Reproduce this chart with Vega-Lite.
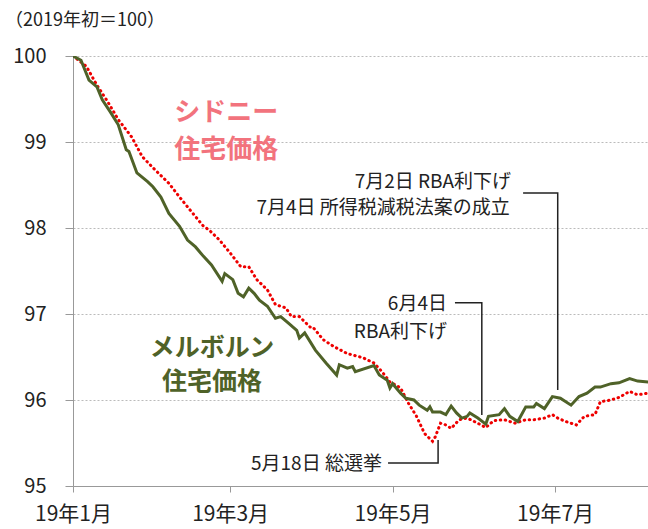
{
  "$schema": "https://vega.github.io/schema/vega-lite/v6.json",
  "width": 575,
  "height": 430,
  "autosize": "none",
  "padding": {"left": 73, "top": 56, "right": 0, "bottom": 43},
  "background": "white",
  "config": {"view": {"stroke": null}, "font": "Noto Sans CJK JP"},
  "title": {"text": "（2019年初＝100）", "anchor": "start", "frame": "group", "fontSize": 18, "fontWeight": "normal", "color": "#222", "font": "Noto Sans CJK JP", "offset": 16, "dx": -68},
  "datasets": {
    "melb": [
      {"date": "2019-01-01", "value": 100},
      {"date": "2019-01-04", "value": 99.95},
      {"date": "2019-01-07", "value": 99.72},
      {"date": "2019-01-10", "value": 99.64},
      {"date": "2019-01-12", "value": 99.49},
      {"date": "2019-01-15", "value": 99.35},
      {"date": "2019-01-18", "value": 99.2},
      {"date": "2019-01-21", "value": 98.91},
      {"date": "2019-01-22", "value": 98.89},
      {"date": "2019-01-25", "value": 98.64},
      {"date": "2019-01-29", "value": 98.54},
      {"date": "2019-01-31", "value": 98.48},
      {"date": "2019-02-03", "value": 98.36},
      {"date": "2019-02-06", "value": 98.17},
      {"date": "2019-02-10", "value": 98.02},
      {"date": "2019-02-13", "value": 97.86},
      {"date": "2019-02-16", "value": 97.78},
      {"date": "2019-02-19", "value": 97.67},
      {"date": "2019-02-22", "value": 97.57},
      {"date": "2019-02-26", "value": 97.38},
      {"date": "2019-02-27", "value": 97.47},
      {"date": "2019-03-02", "value": 97.4},
      {"date": "2019-03-04", "value": 97.24},
      {"date": "2019-03-06", "value": 97.2},
      {"date": "2019-03-08", "value": 97.3},
      {"date": "2019-03-10", "value": 97.24},
      {"date": "2019-03-12", "value": 97.16},
      {"date": "2019-03-15", "value": 97.09},
      {"date": "2019-03-18", "value": 96.95},
      {"date": "2019-03-20", "value": 96.97},
      {"date": "2019-03-23", "value": 96.89},
      {"date": "2019-03-26", "value": 96.81},
      {"date": "2019-03-27", "value": 96.72},
      {"date": "2019-03-29", "value": 96.78},
      {"date": "2019-04-02", "value": 96.58},
      {"date": "2019-04-06", "value": 96.43},
      {"date": "2019-04-10", "value": 96.29},
      {"date": "2019-04-11", "value": 96.41},
      {"date": "2019-04-14", "value": 96.37},
      {"date": "2019-04-16", "value": 96.39},
      {"date": "2019-04-17", "value": 96.33},
      {"date": "2019-04-24", "value": 96.4},
      {"date": "2019-04-26", "value": 96.29},
      {"date": "2019-04-29", "value": 96.23},
      {"date": "2019-04-30", "value": 96.14},
      {"date": "2019-05-01", "value": 96.19},
      {"date": "2019-05-04", "value": 96.08},
      {"date": "2019-05-06", "value": 96.02},
      {"date": "2019-05-09", "value": 96.0},
      {"date": "2019-05-11", "value": 95.94},
      {"date": "2019-05-14", "value": 95.88},
      {"date": "2019-05-15", "value": 95.92},
      {"date": "2019-05-16", "value": 95.86},
      {"date": "2019-05-19", "value": 95.86},
      {"date": "2019-05-21", "value": 95.83},
      {"date": "2019-05-23", "value": 95.93},
      {"date": "2019-05-25", "value": 95.85},
      {"date": "2019-05-27", "value": 95.79},
      {"date": "2019-05-29", "value": 95.81},
      {"date": "2019-05-30", "value": 95.85},
      {"date": "2019-06-02", "value": 95.79},
      {"date": "2019-06-05", "value": 95.72},
      {"date": "2019-06-06", "value": 95.81},
      {"date": "2019-06-10", "value": 95.83},
      {"date": "2019-06-12", "value": 95.9},
      {"date": "2019-06-14", "value": 95.81},
      {"date": "2019-06-17", "value": 95.75},
      {"date": "2019-06-20", "value": 95.92},
      {"date": "2019-06-23", "value": 95.92},
      {"date": "2019-06-24", "value": 95.96},
      {"date": "2019-06-27", "value": 95.9},
      {"date": "2019-06-30", "value": 96.04},
      {"date": "2019-07-03", "value": 96.02},
      {"date": "2019-07-07", "value": 95.94},
      {"date": "2019-07-10", "value": 96.04},
      {"date": "2019-07-13", "value": 96.08},
      {"date": "2019-07-16", "value": 96.15},
      {"date": "2019-07-18", "value": 96.15},
      {"date": "2019-07-22", "value": 96.19},
      {"date": "2019-07-25", "value": 96.2},
      {"date": "2019-07-29", "value": 96.25},
      {"date": "2019-08-01", "value": 96.22},
      {"date": "2019-08-05", "value": 96.21}
    ],
    "syd": [
      {"date": "2019-01-01", "value": 100},
      {"date": "2019-01-06", "value": 99.88},
      {"date": "2019-01-10", "value": 99.66},
      {"date": "2019-01-14", "value": 99.47},
      {"date": "2019-01-18", "value": 99.26},
      {"date": "2019-01-23", "value": 99.06},
      {"date": "2019-01-27", "value": 98.83},
      {"date": "2019-02-01", "value": 98.67},
      {"date": "2019-02-06", "value": 98.52},
      {"date": "2019-02-10", "value": 98.36},
      {"date": "2019-02-15", "value": 98.17},
      {"date": "2019-02-19", "value": 98.02},
      {"date": "2019-02-21", "value": 97.98},
      {"date": "2019-02-25", "value": 97.86},
      {"date": "2019-03-01", "value": 97.71},
      {"date": "2019-03-05", "value": 97.55},
      {"date": "2019-03-08", "value": 97.55},
      {"date": "2019-03-11", "value": 97.4},
      {"date": "2019-03-15", "value": 97.28},
      {"date": "2019-03-18", "value": 97.11},
      {"date": "2019-03-20", "value": 97.09},
      {"date": "2019-03-22", "value": 97.07},
      {"date": "2019-03-24", "value": 96.97},
      {"date": "2019-03-27", "value": 96.97},
      {"date": "2019-03-31", "value": 96.85},
      {"date": "2019-04-01", "value": 96.85},
      {"date": "2019-04-05", "value": 96.7},
      {"date": "2019-04-09", "value": 96.62},
      {"date": "2019-04-14", "value": 96.54},
      {"date": "2019-04-20", "value": 96.49},
      {"date": "2019-04-24", "value": 96.43},
      {"date": "2019-04-27", "value": 96.33},
      {"date": "2019-04-30", "value": 96.21},
      {"date": "2019-05-04", "value": 96.14},
      {"date": "2019-05-07", "value": 95.96},
      {"date": "2019-05-10", "value": 95.81},
      {"date": "2019-05-13", "value": 95.61},
      {"date": "2019-05-16", "value": 95.52},
      {"date": "2019-05-17", "value": 95.57},
      {"date": "2019-05-19", "value": 95.73},
      {"date": "2019-05-21", "value": 95.71},
      {"date": "2019-05-23", "value": 95.67},
      {"date": "2019-05-26", "value": 95.77},
      {"date": "2019-05-29", "value": 95.79},
      {"date": "2019-06-02", "value": 95.73},
      {"date": "2019-06-05", "value": 95.68},
      {"date": "2019-06-08", "value": 95.76},
      {"date": "2019-06-12", "value": 95.77},
      {"date": "2019-06-16", "value": 95.73},
      {"date": "2019-06-20", "value": 95.77},
      {"date": "2019-06-23", "value": 95.77},
      {"date": "2019-06-27", "value": 95.79},
      {"date": "2019-06-30", "value": 95.83},
      {"date": "2019-07-02", "value": 95.79},
      {"date": "2019-07-05", "value": 95.75},
      {"date": "2019-07-09", "value": 95.71},
      {"date": "2019-07-12", "value": 95.81},
      {"date": "2019-07-16", "value": 95.83},
      {"date": "2019-07-18", "value": 95.98},
      {"date": "2019-07-22", "value": 96.0},
      {"date": "2019-07-25", "value": 96.03},
      {"date": "2019-07-29", "value": 96.1},
      {"date": "2019-08-01", "value": 96.06},
      {"date": "2019-08-05", "value": 96.08}
    ],
    "notes": [
      {"date": "2019-06-14T12:00:00Z", "value": 98.535, "text": "7月2日 RBA利下げ"},
      {"date": "2019-06-14T00:00:00Z", "value": 98.233, "text": "7月4日 所得税減税法案の成立"},
      {"date": "2019-05-21T10:00:00Z", "value": 97.116, "text": "6月4日"},
      {"date": "2019-05-21T10:00:00Z", "value": 96.791, "text": "RBA利下げ"},
      {"date": "2019-04-27T00:00:00Z", "value": 95.256, "text": "5月18日 総選挙"}
    ],
    "sydlab": [
      {"date": "2019-02-27T12:00:00Z", "value": 99.337, "text": "シドニー"},
      {"date": "2019-02-27T12:00:00Z", "value": 98.907, "text": "住宅価格"}
    ],
    "melblab": [
      {"date": "2019-02-22T05:00:00Z", "value": 96.605, "text": "メルボルン"},
      {"date": "2019-02-22T05:00:00Z", "value": 96.209, "text": "住宅価格"}
    ],
    "conn": [
      {"g": "a", "ord": 1, "date": "2019-06-19T00:00:00Z", "value": 98.407},
      {"g": "a", "ord": 2, "date": "2019-07-02T00:00:00Z", "value": 98.407},
      {"g": "a", "ord": 3, "date": "2019-07-02T00:00:00Z", "value": 96.116},
      {"g": "b", "ord": 1, "date": "2019-05-24T10:00:00Z", "value": 97.131},
      {"g": "b", "ord": 2, "date": "2019-06-03T12:00:00Z", "value": 97.131},
      {"g": "b", "ord": 3, "date": "2019-06-03T12:00:00Z", "value": 95.826},
      {"g": "c", "ord": 1, "date": "2019-04-29T07:00:00Z", "value": 95.267},
      {"g": "c", "ord": 2, "date": "2019-05-18T02:00:00Z", "value": 95.267},
      {"g": "c", "ord": 3, "date": "2019-05-18T02:00:00Z", "value": 95.535}
    ]
  },
  "encoding": {
    "x": {
      "field": "date", "type": "temporal",
      "scale": {"type": "utc", "domain": [1546300800000, 1564954560000]},
      "axis": {
        "values": [1546300800000, 1551398400000, 1556668800000, 1561939200000],
        "labelExpr": "'19年' + (utcmonth(datum.value) + 1) + '月'",
        "title": null, "grid": false, "domainColor": "#999", "tickColor": "#999", "tickSize": 6,
        "labelFontSize": 21, "labelColor": "#222", "labelPadding": 11, "labelFlush": false, "labelOverlap": false, "labelBound": false,
        "labelFont": "Noto Sans CJK JP"
      }
    },
    "y": {
      "field": "value", "type": "quantitative",
      "scale": {"domain": [95, 100], "zero": false, "nice": false},
      "axis": {
        "values": [95, 96, 97, 98, 99, 100], "format": "d", "title": null,
        "grid": true, "gridColor": "#bbb", "gridDash": [2, 2],
        "domainColor": "#999", "tickColor": "#999", "tickSize": 8,
        "labelFontSize": 20, "labelPadding": 19, "labelColor": "#222", "labelFont": "Noto Sans CJK JP"
      }
    }
  },
  "layer": [
    {"data": {"name": "syd"}, "mark": {"type": "line", "color": "#ee0000", "strokeWidth": 3, "strokeDash": [0.5, 4.5], "strokeCap": "round", "clip": true}},
    {"data": {"name": "melb"}, "mark": {"type": "line", "color": "#4f6228", "strokeWidth": 3, "clip": true}},
    {"data": {"name": "conn"}, "mark": {"type": "line", "color": "#222", "strokeWidth": 1.5}, "encoding": {"detail": {"field": "g"}, "order": {"field": "ord", "type": "quantitative"}}},
    {"data": {"name": "notes"}, "mark": {"type": "text", "align": "right", "baseline": "middle", "fontSize": 19, "color": "#222", "font": "Noto Sans CJK JP"}, "encoding": {"text": {"field": "text"}}},
    {"data": {"name": "sydlab"}, "mark": {"type": "text", "align": "center", "baseline": "middle", "fontSize": 26, "fontWeight": "bold", "color": "#f2737d", "font": "Noto Sans CJK JP"}, "encoding": {"text": {"field": "text"}}},
    {"data": {"name": "melblab"}, "mark": {"type": "text", "align": "center", "baseline": "middle", "fontSize": 25, "fontWeight": "bold", "color": "#4f6228", "font": "Noto Sans CJK JP"}, "encoding": {"text": {"field": "text"}}}
  ]
}
